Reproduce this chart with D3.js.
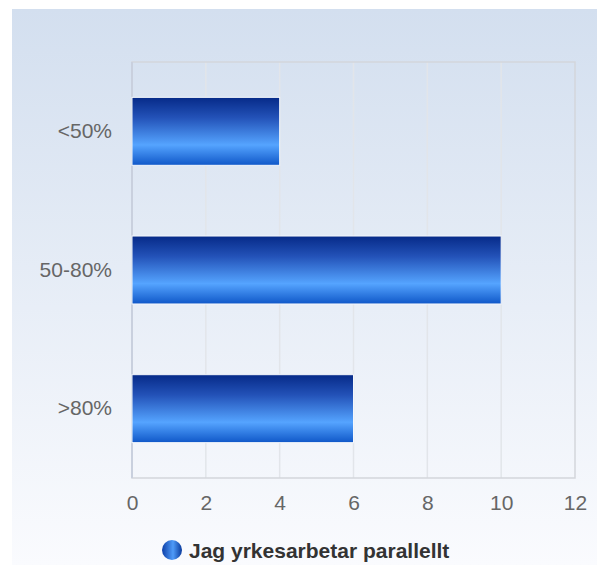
<!DOCTYPE html>
<html>
<head>
<meta charset="utf-8">
<script src="https://cdn.jsdelivr.net/npm/d3@7"></script>
<style>
  body { margin: 0; background: #fff; }
  svg { display: block; font-family: "Liberation Sans", Arial, sans-serif; }
</style>
</head>
<body>
<div id="chart"></div>
<script>
// data
var categories = ["<50%", "50-80%", ">80%"];
var values = [4, 10, 6];
var xTicks = [0, 2, 4, 6, 8, 10, 12];
var seriesName = "Jag yrkesarbetar parallellt";

var W = 597, H = 566;
var margin = {top: 62, right: 22, bottom: 88, left: 132};
var width = 575 - margin.left,
    height = 478 - margin.top;

var svg = d3.select("#chart").append("svg")
    .attr("width", W)
    .attr("height", H);

var defs = svg.append("defs");
var bg = defs.append("linearGradient").attr("id", "bg")
    .attr("x1", 0).attr("y1", 0).attr("x2", 0).attr("y2", 1);
bg.append("stop").attr("offset", "0%").attr("stop-color", "#d3dfef");
bg.append("stop").attr("offset", "100%").attr("stop-color", "#fafbfe");

var barG = defs.append("linearGradient").attr("id", "bar")
    .attr("x1", 0).attr("y1", 0).attr("x2", 0).attr("y2", 1);
barG.append("stop").attr("offset", "0%").attr("stop-color", "#062a88");
barG.append("stop").attr("offset", "30%").attr("stop-color", "#2352b8");
barG.append("stop").attr("offset", "70%").attr("stop-color", "#55a4ff");
barG.append("stop").attr("offset", "100%").attr("stop-color", "#0f57c8");

var dot = defs.append("linearGradient").attr("id", "dot")
    .attr("x1", 0).attr("y1", 0).attr("x2", 1).attr("y2", 0);
dot.append("stop").attr("offset", "0%").attr("stop-color", "#0d3fa8");
dot.append("stop").attr("offset", "55%").attr("stop-color", "#4f9bf8");
dot.append("stop").attr("offset", "100%").attr("stop-color", "#0a3a9c");

svg.append("rect")
    .attr("x", 12).attr("y", 9)
    .attr("width", W - 12).attr("height", H - 10)
    .attr("fill", "url(#bg)");

var g = svg.append("g")
    .attr("transform", "translate(" + margin.left + "," + margin.top + ")");

var x = d3.scaleLinear().domain([0, 12]).range([0, width]);
var y = d3.scaleBand().domain(categories).range([0, height]).paddingInner(0.51).paddingOuter(0.255);

// grid
g.selectAll(".grid").data(xTicks.slice(1, -1))
  .enter().append("line")
    .attr("x1", function(d) { return x(d); })
    .attr("x2", function(d) { return x(d); })
    .attr("y1", 0).attr("y2", height)
    .attr("stroke", "#e2e5ea").attr("stroke-width", 1.5);

// frame
g.append("rect")
    .attr("width", width).attr("height", height)
    .attr("fill", "none")
    .attr("stroke", "#d3d6db").attr("stroke-width", 1.5);
g.append("line")
    .attr("x1", 0).attr("x2", 0).attr("y1", 0).attr("y2", height)
    .attr("stroke", "#c9d0de").attr("stroke-width", 2);

// bars
g.selectAll(".bar").data(values)
  .enter().append("rect")
    .attr("class", "bar")
    .attr("x", 0)
    .attr("y", function(d, i) { return y(categories[i]); })
    .attr("width", function(d) { return x(d); })
    .attr("height", y.bandwidth())
    .attr("fill", "url(#bar)")
    .attr("stroke", "#f4f7fc").attr("stroke-width", 1);

// x axis
var xAxis = g.append("g")
    .attr("transform", "translate(0," + height + ")")
    .call(d3.axisBottom(x).tickValues(xTicks).tickSize(0).tickPadding(17));
xAxis.select(".domain").remove();
xAxis.selectAll("text")
    .attr("font-size", "21px").attr("fill", "#666")
    .attr("font-family", "Liberation Sans, Arial, sans-serif");

// y axis
var yAxis = g.append("g")
    .call(d3.axisLeft(y).tickSize(0).tickPadding(20));
yAxis.select(".domain").remove();
yAxis.selectAll("text")
    .attr("font-size", "21px").attr("fill", "#666")
    .attr("font-family", "Liberation Sans, Arial, sans-serif");

// legend
var leg = svg.append("g").attr("transform", "translate(172,550)");
leg.append("circle").attr("r", 10).attr("fill", "url(#dot)");
leg.append("text")
    .attr("x", 17).attr("dy", "0.36em")
    .attr("font-size", "21px").attr("font-weight", "bold")
    .attr("fill", "#333")
    .text(seriesName);
</script>
</body>
</html>
